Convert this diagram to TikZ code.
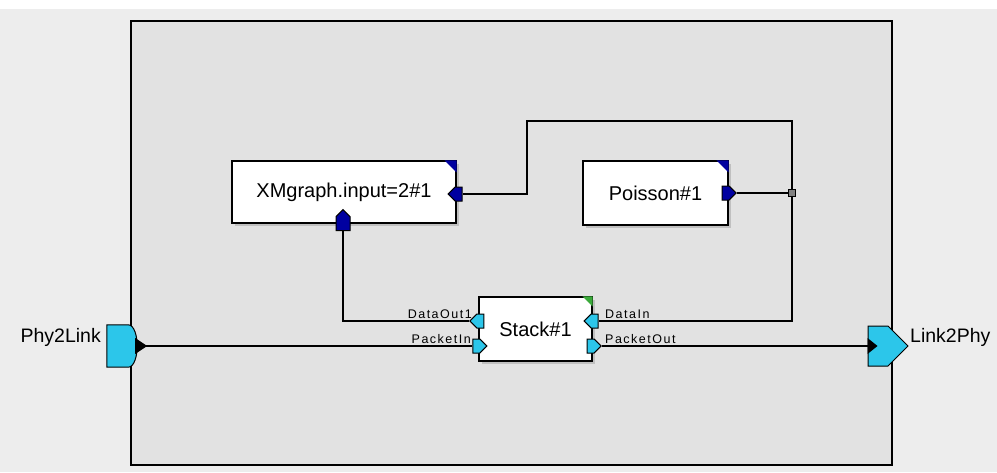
\documentclass[tikz,border=0pt]{standalone}
\usepackage{fontspec}
\setmainfont{Liberation Sans}
\newfontfamily\portfont[LetterSpace=12]{Liberation Sans}
\usetikzlibrary{positioning,shapes.symbols,shadows}

\definecolor{portcyan}{HTML}{2CC6EA}
\definecolor{portnavy}{HTML}{0000A0}
\definecolor{cornergreen}{HTML}{3BAA3B}
\definecolor{canvasgrey}{HTML}{EDEDED}
\definecolor{framegrey}{HTML}{E2E2E2}

\begin{document}
\begin{tikzpicture}[x=1pt, y=-1pt,
  block/.style={draw, line width=1.2pt, fill=white, inner sep=0pt,
    font=\fontsize{20}{24}\selectfont,
    drop shadow={shadow xshift=3pt, shadow yshift=-3pt, fill=black, opacity=.15}},
  portbase/.style={draw, line width=1pt, signal, signal from=nowhere,
    minimum width=14pt, minimum height=14pt, inner sep=0pt},
  portL/.style={portbase, signal to=west, xshift=2pt},
  portR/.style={portbase, signal to=east, xshift=-2pt},
  portU/.style={portbase, signal to=north},
  plabel/.style={font=\portfont\fontsize{12.5}{14}\selectfont, inner sep=0pt},
  biglabel/.style={font=\fontsize{19.5}{23}\selectfont, inner sep=0pt},
  wire/.style={line width=1.3pt}]
  \useasboundingbox (0,0) rectangle (997,472);
  \fill[white] (0,0) rectangle (997,9);
  \fill[canvasgrey] (0,9) rectangle (997,472);
  \draw[line width=1.8pt, fill=framegrey] (131,21) rectangle (892,465);

  % blocks
  \node[block, minimum width=224pt, minimum height=62pt] (xmgraph) at (344,192) {XMgraph.input=2\#1};
  \node[block, minimum width=145pt, minimum height=64pt] (poisson) at (655.5,193) {Poisson\#1};
  \node[block, minimum width=113pt, minimum height=64pt] (stack) at (535.5,329) {Stack\#1};
  \fill[portnavy] (xmgraph.north east) -- ++(-12,0) -- ++(12,12) -- cycle;
  \fill[portnavy] (poisson.north east) -- ++(-12,0) -- ++(12,12) -- cycle;
  \fill[cornergreen] (stack.north east) -- ++(-10,0) -- ++(10,10) -- cycle;

  % outer ports
  \node[minimum width=30pt, minimum height=42pt, inner sep=0pt] (phylink) at (122,346) {};
  \filldraw[line width=1pt, fill=portcyan] (phylink.north west) -- ([xshift=-9pt]phylink.north east)
    .. controls ([xshift=-3pt]phylink.north east) and ([yshift=10pt]phylink.east) .. (phylink.east)
    .. controls ([yshift=-10pt]phylink.east) and ([xshift=-3pt]phylink.south east) .. ([xshift=-9pt]phylink.south east)
    -- (phylink.south west) -- cycle;
  \node[draw, line width=1pt, fill=portcyan, signal, signal from=nowhere, signal to=east,
    minimum width=40pt, minimum height=40pt, inner sep=0pt] (linkphy) at (878,346) {};
  \fill (phylink.east) ++(-2,-8) -- ++(12,8) -- ++(-12,8) -- cycle;
  \fill (linkphy.west) ++(0,-8) -- ++(10,8) -- ++(-10,8) -- cycle;
  \node[biglabel, anchor=base east] (phylabel) at (101,342) {Phy2Link};
  \node[biglabel, anchor=base west] (linklabel) at (910,342) {Link2Phy};

  % block ports
  \node[portL, fill=portnavy] (xout) at (xmgraph.east |- 0,194) {};
  \node[portU, fill=portnavy] (xin) at ([xshift=-1pt]xmgraph.south) {};
  \node[portR, fill=portnavy] (pout) at ([xshift=-1pt]poisson.east) {};
  \node[portL, fill=portcyan] (dout) at (stack.west |- 0,321) {};
  \node[portR, fill=portcyan] (pin) at (stack.west |- 0,346) {};
  \node[portL, fill=portcyan] (din) at (stack.east |- 0,321) {};
  \node[portR, fill=portcyan] (pkout) at (stack.east |- 0,346) {};
  \node[plabel, anchor=base east] (doutlabel) at (472,318) {DataOut1};
  \node[plabel, anchor=base east] (pinlabel) at (471,343) {PacketIn};
  \node[plabel, anchor=base west] (dinlabel) at (605,318) {DataIn};
  \node[plabel, anchor=base west] (pkoutlabel) at (605,343) {PacketOut};

  \node[draw, line width=1pt, fill=gray, minimum size=7pt, inner sep=0pt] (split) at (792,193) {};
  \coordinate (bend) at (527,121);

  % wires
  \draw[wire] (phylink.east) -- (pin.west);
  \draw[wire] (pkout.east) -- (linkphy.west);
  \draw[wire] (dout.west) -| (xin.south);
  \draw[wire] (pout.east) -- (split);
  \draw[wire] (split) |- (din.east);
  \draw[wire] (split) |- (bend) |- (xout.east);
\end{tikzpicture}
\end{document}
